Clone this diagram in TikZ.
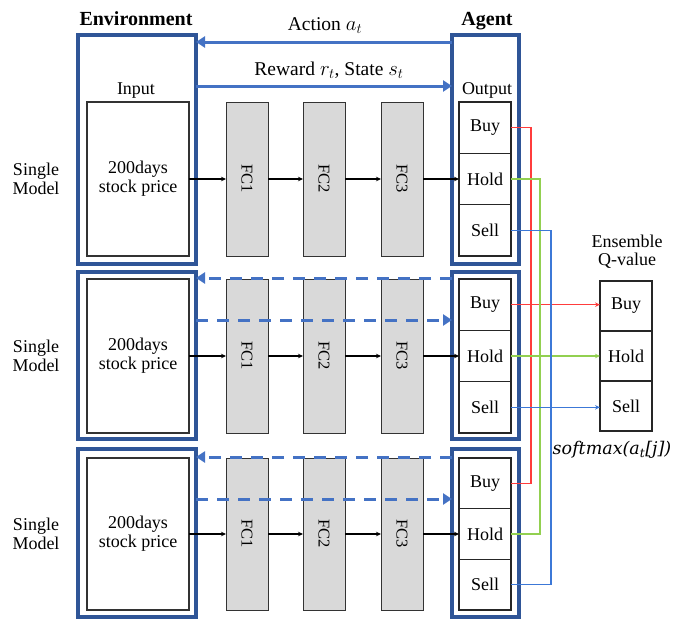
\documentclass[tikz,border=0pt]{standalone}
\usepackage{fontspec}
\setmainfont{Liberation Serif}
\newfontfamily\smfont{DejaVu Serif}
\usetikzlibrary{arrows.meta}
\definecolor{boxblue}{RGB}{47,85,151}
\definecolor{arrblue}{RGB}{68,114,196}
\definecolor{lred}{RGB}{255,60,60}
\definecolor{lgreen}{RGB}{146,208,80}
\definecolor{lblue}{RGB}{60,120,215}
\definecolor{fcgray}{RGB}{217,217,217}
\tikzset{
  envbox/.style={draw=boxblue, line width=3.2pt, inner sep=0pt, outer sep=0pt},
  inbox/.style={draw=black!80, line width=1.2pt, inner sep=0pt, outer sep=0pt, align=center, font=\fontsize{18}{20}\selectfont},
  fcbox/.style={draw=black!80, fill=fcgray, line width=1pt, inner sep=0pt, outer sep=0pt, minimum width=42pt, font=\fontsize{16.5}{18}\selectfont},
  cellbox/.style={draw=black!85, line width=1.2pt, inner sep=0pt, outer sep=0pt, minimum width=52pt, font=\fontsize{18}{20}\selectfont},
  lbl/.style={inner sep=0pt, font=\fontsize{18}{20}\selectfont, align=center},
  toplbl/.style={inner sep=0pt, anchor=base, font=\fontsize{19.5}{22}\selectfont},
  hdr/.style={inner sep=0pt, anchor=base, font=\fontsize{20}{22}\selectfont\bfseries},
  blk/.style={draw=black, line width=1.2pt, -{Stealth[length=5pt,width=4.5pt]}},
  barrow/.style={draw=arrblue, line width=3pt, -{Triangle[length=9pt,width=11pt]}},
  darrow/.style={draw=arrblue, line width=3pt, dash pattern=on 12pt off 9pt, -{Triangle[length=9pt,width=11pt]}},
  cline/.style={line width=1.2pt},
  carrow/.style={line width=1.2pt, -{Stealth[length=5pt,width=4.5pt]}}
}
\begin{document}
\begin{tikzpicture}[x=1pt,y=-1pt]
\useasboundingbox (0,0) rectangle (683,629);
\foreach \r/\pa/\pb/\pc/\pd in {1/35/264/102/256, 2/272/439/279/433, 3/449/617/458/610}{
  \pgfmathsetmacro{\ec}{(\pa+\pb)/2}
  \pgfmathsetmacro{\eh}{\pb-\pa}
  \pgfmathsetmacro{\ic}{(\pc+\pd)/2}
  \pgfmathsetmacro{\ih}{\pd-\pc}
  \pgfmathsetmacro{\sh}{\ih/3}
  \pgfmathsetmacro{\ya}{\pc+\sh/2}
  \pgfmathsetmacro{\yb}{\pc+1.5*\sh}
  \pgfmathsetmacro{\yc}{\pc+2.5*\sh}
  \node[envbox, minimum width=118pt, minimum height=\eh pt] (env\r) at (137,\ec) {};
  \node[envbox, minimum width=67pt, minimum height=\eh pt] (agent\r) at (485.5,\ec) {};
  \node[inbox, minimum width=102pt, minimum height=\ih pt] (in\r) at (138,\ic) {200days\\[-1pt]stock price};
  \node[fcbox, minimum height=\ih pt] (fca\r) at (247,\ic) {\rotatebox{-90}{FC1}};
  \node[fcbox, minimum height=\ih pt] (fcb\r) at (324,\ic) {\rotatebox{-90}{FC2}};
  \node[fcbox, minimum height=\ih pt] (fcc\r) at (402,\ic) {\rotatebox{-90}{FC3}};
  \node[cellbox, minimum height=\sh pt] (buy\r) at (485,\ya) {Buy};
  \node[cellbox, minimum height=\sh pt] (hold\r) at (485,\yb) {Hold};
  \node[cellbox, minimum height=\sh pt] (sell\r) at (485,\yc) {Sell};
  \node[lbl] (single\r) at (36,\ic) {Single\\[-1pt]Model};
  \draw[blk] (in\r.east) -- (fca\r.west);
  \draw[blk] (fca\r.east) -- (fcb\r.west);
  \draw[blk] (fcb\r.east) -- (fcc\r.west);
  \draw[blk] (fcc\r.east) -- (fcc\r.east -| hold\r.west);
}
% headers
\node[hdr] (envlbl) at (136,25) {Environment};
\node[hdr] (agentlbl) at (487,25) {Agent};
\node[toplbl] (actlbl) at (325,30) {Action $a_t$};
\node[toplbl] (rewlbl) at (329,75) {Reward $r_t$, State $s_t$};
\node[toplbl, font=\fontsize{18}{20}\selectfont] (inlbl) at (136,94) {Input};
\node[toplbl, font=\fontsize{18}{20}\selectfont] (outlbl) at (487,94) {Output};
% row 1 solid arrows
\draw[barrow] ([yshift=-7pt]agent1.north west) -- ([yshift=-7pt]env1.north east);
\draw[barrow] ([yshift=-51pt]env1.north east) -- ([yshift=-51pt]agent1.north west);
% rows 2 and 3 dashed arrows
\draw[darrow] ([yshift=-6pt]agent2.north west) -- ([yshift=-6pt]env2.north east);
\draw[darrow] ([yshift=-48pt]env2.north east) -- ([yshift=-48pt]agent2.north west);
\draw[darrow] ([yshift=-8pt]agent3.north west) -- ([yshift=-8pt]env3.north east);
\draw[darrow] ([yshift=-50pt]env3.north east) -- ([yshift=-50pt]agent3.north west);
% ensemble
\node[cellbox, minimum height=50pt] (qbuy) at (626,306) {Buy};
\node[cellbox, minimum height=50pt] (qhold) at (626,356) {Hold};
\node[cellbox, minimum height=50pt] (qsell) at (626,406) {Sell};
\node[lbl] (enslbl) at (627,252) {Ensemble\\[-2pt]Q-value};
\node[lbl, font=\fontsize{17.5}{20}\smfont\itshape] (smlbl) at (612,450) {softmax(a\textsubscript{t}[j])};
% coloured lines
\coordinate (rx) at (531,0);
\coordinate (gx) at (540,0);
\coordinate (bx) at (551,0);
\draw[cline, lred] (buy1.east) -- (buy1.east -| rx) -- (buy3.east -| rx) -- (buy3.east);
\draw[carrow, lred] (buy2.east) -- (buy2.east -| qbuy.west);
\draw[cline, lgreen] (hold1.east) -- (hold1.east -| gx) -- (hold3.east -| gx) -- (hold3.east);
\draw[carrow, lgreen] (hold2.east) -- (hold2.east -| qhold.west);
\draw[cline, lblue] (sell1.east) -- (sell1.east -| bx) -- (sell3.east -| bx) -- (sell3.east);
\draw[carrow, lblue] (sell2.east) -- (sell2.east -| qsell.west);
\end{tikzpicture}
\end{document}
